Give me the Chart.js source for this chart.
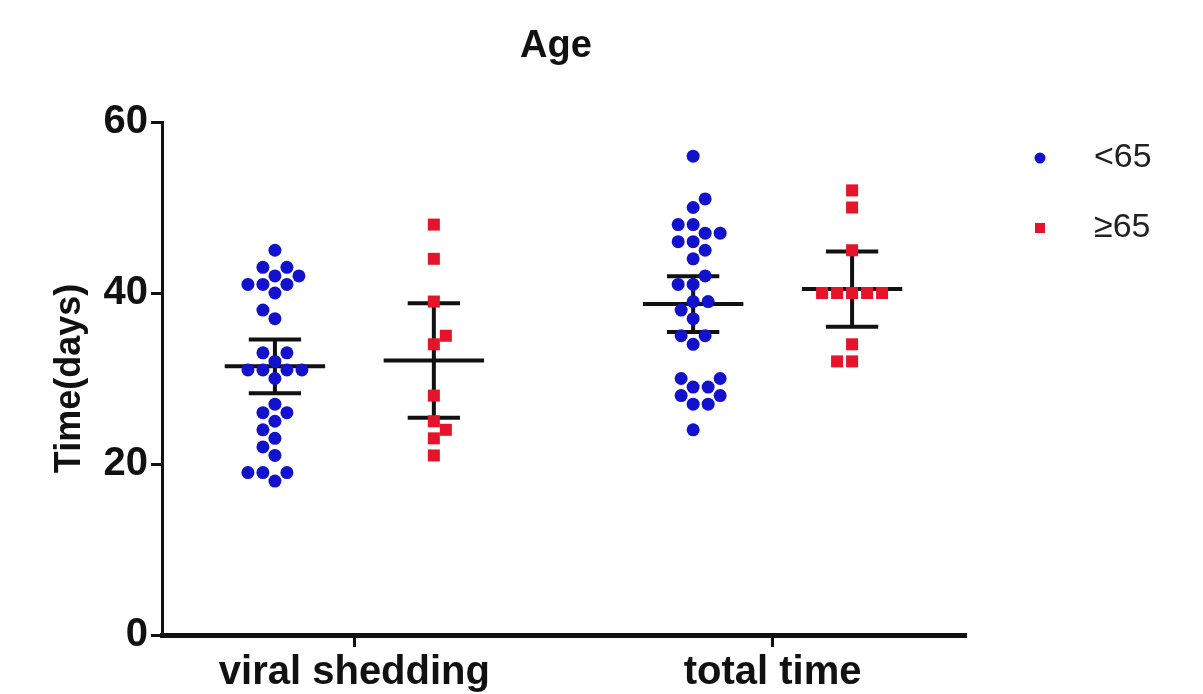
<!DOCTYPE html>
<html>
<head>
<meta charset="utf-8">
<title>Age</title>
<script src="https://cdn.jsdelivr.net/npm/chart.js@4"></script>
<style>
  html, body { margin: 0; padding: 0; background: #fff; }
  #wrap { width: 1203px; height: 694px; position: relative; }
</style>
</head>
<body>
<div id="wrap"><canvas id="ageChart"></canvas></div>
<script>
// values (days)
const categories = ['viral shedding', 'total time'];
const seriesLabels = ['<65', '\u226565'];
const seriesColors = ['#1212cc', '#e6142a'];
const yTicks = [0, 20, 40, 60];

const under65Viral = [45, 43, 43, 42, 42, 41, 41, 41, 40, 38, 37, 33, 33, 32, 31, 31, 31, 31, 30,
                      27, 26, 26, 25, 24, 23, 22, 21, 19, 19, 19, 18];
const over65Viral = [48, 44, 39, 35, 34, 28, 25, 24, 23, 21];
const under65Total = [56, 51, 50, 48, 48, 47, 47, 46, 46, 45, 44, 42, 41, 41, 39, 39, 38, 37, 35, 35,
                      34, 30, 30, 29, 29, 28, 28, 27, 27, 24];
const over65Total = [52, 50, 45, 40, 40, 40, 40, 40, 34, 32, 32];

// layout of the plot
const catPos = [1, 3];
const groupShift = 0.38;
const meanHalf = 0.24;
const capHalf = 0.125;
const pxPerX = 803 / 3.84;
const pxPerY = 513 / 60;

// simple beeswarm: push each dot sideways until it clears the others
const swarm = (values, center, gap) => {
    const order = values.map((v, i) => i).sort((a, b) => values[a] - values[b]);
    const placed = [];
    const out = [];
    order.forEach((i, n) => {
        const y = values[i] * pxPerY;
        let found = null;
        for (let s = 0; s < 300 && found === null; s++) {
            const tries = s === 0 ? [0] : (n % 2 ? [-s, s] : [s, -s]);
            for (const dx of tries) {
                if (placed.every(p => Math.hypot(p.x - dx, p.y - y) >= gap)) { found = dx; break; }
            }
        }
        placed.push({ x: found, y: y });
        out.push({ x: center + found / pxPerX, y: values[i] });
    });
    return out;
};

// mean with 95% confidence interval
const tCrit = (df) => {
    const z = 1.96;
    return z + (z ** 3 + z) / (4 * df) + (5 * z ** 5 + 16 * z ** 3 + 3 * z) / (96 * df * df);
};
const meanCI = (values) => {
    const n = values.length;
    const mean = values.reduce((a, b) => a + b, 0) / n;
    const sd = Math.sqrt(values.reduce((a, b) => a + (b - mean) ** 2, 0) / (n - 1));
    return { mean: mean, half: tCrit(n - 1) * sd / Math.sqrt(n) };
};
const errorLines = (values, c) => {
    const { mean, half } = meanCI(values);
    const hi = mean + half, lo = mean - half;
    return [
        { x: c - meanHalf, y: mean }, { x: c + meanHalf, y: mean }, { x: c, y: null },
        { x: c - capHalf, y: hi }, { x: c + capHalf, y: hi }, { x: c, y: null },
        { x: c, y: hi }, { x: c, y: lo }, { x: c, y: null },
        { x: c - capHalf, y: lo }, { x: c + capHalf, y: lo }
    ];
};

const groups = [
    { values: under65Viral, center: catPos[0] - groupShift },
    { values: under65Total, center: catPos[1] - groupShift },
    { values: over65Viral, center: catPos[0] + groupShift },
    { values: over65Total, center: catPos[1] + groupShift }
];

const datasets = [
    {
        label: seriesLabels[0],
        data: swarm(under65Viral, groups[0].center, 14.5).concat(swarm(under65Total, groups[1].center, 14.5)),
        backgroundColor: seriesColors[0],
        borderColor: seriesColors[0],
        pointStyle: 'circle',
        pointRadius: 6.5,
        borderWidth: 0,
        order: 0
    },
    {
        label: seriesLabels[1],
        data: swarm(over65Viral, groups[2].center, 14.5).concat(swarm(over65Total, groups[3].center, 14.5)),
        backgroundColor: seriesColors[1],
        borderColor: seriesColors[1],
        pointStyle: 'rect',
        pointRadius: 8.5,
        borderWidth: 0,
        order: 0
    }
];
groups.forEach(g => {
    datasets.push({
        type: 'line',
        label: 'err',
        data: errorLines(g.values, g.center),
        borderColor: '#111',
        borderWidth: 4,
        pointRadius: 0,
        spanGaps: false,
        fill: false,
        order: 1
    });
});

const FONT = "'Liberation Sans', Arial, sans-serif";

// title and legend drawn by hand so they sit where the original has them
const decorations = {
    id: 'decorations',
    afterDraw(chart) {
        const ctx = chart.ctx;
        ctx.save();
        ctx.fillStyle = '#111';
        ctx.font = 'bold 38px ' + FONT;
        ctx.textAlign = 'center';
        ctx.textBaseline = 'middle';
        ctx.fillText('Age', 556, 47);

        ctx.font = '34px ' + FONT;
        ctx.textAlign = 'left';
        const rows = [158, 228];
        rows.forEach((y, i) => {
            ctx.fillStyle = seriesColors[i];
            if (i === 0) {
                ctx.beginPath();
                ctx.arc(1040, y, 5.5, 0, Math.PI * 2);
                ctx.fill();
            } else {
                ctx.fillRect(1035, y - 5, 10, 10);
            }
            ctx.fillStyle = '#222';
            ctx.fillText(seriesLabels[i], 1094, y);
        });
        ctx.restore();
    }
};

new Chart(document.getElementById('ageChart'), {
    type: 'scatter',
    data: { datasets: datasets },
    options: {
        responsive: true,
        maintainAspectRatio: false,
        animation: false,
        layout: { padding: { top: 122, right: 238, bottom: 0, left: 0 } },
        plugins: {
            legend: { display: false },
            tooltip: { enabled: false },
            title: { display: false }
        },
        scales: {
            x: {
                type: 'linear',
                min: 0.08,
                max: 3.92,
                afterFit: (s) => { s.height = 59; },
                afterBuildTicks: (s) => { s.ticks = catPos.map(v => ({ value: v })); },
                ticks: {
                    autoSkip: false,
                    maxRotation: 0,
                    padding: 2,
                    color: '#111',
                    font: { family: FONT, size: 40, weight: 'bold' },
                    callback: (v) => categories[catPos.indexOf(v)]
                },
                grid: { drawOnChartArea: false, drawTicks: true, tickLength: 12, lineWidth: 3, color: '#111' },
                border: { display: true, color: '#111', width: 5 }
            },
            y: {
                min: 0,
                max: 60,
                afterFit: (s) => { s.width = 162; },
                afterBuildTicks: (s) => { s.ticks = yTicks.map(v => ({ value: v })); },
                ticks: {
                    padding: 3,
                    color: '#111',
                    font: { family: FONT, size: 40, weight: 'bold' }
                },
                grid: { drawOnChartArea: false, drawTicks: true, tickLength: 11, lineWidth: 3, color: '#111' },
                border: { display: true, color: '#111', width: 3 },
                title: {
                    display: true,
                    text: 'Time(days)',
                    color: '#111',
                    font: { family: FONT, size: 36, weight: 'bold' },
                    padding: { top: 48, bottom: 0 }
                }
            }
        }
    },
    plugins: [decorations]
});
</script>
</body>
</html>
